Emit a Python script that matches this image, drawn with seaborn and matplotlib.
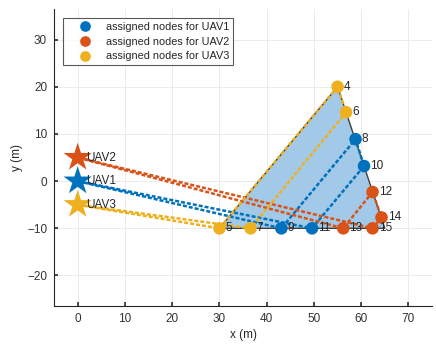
import matplotlib
matplotlib.use("Agg")
import matplotlib.pyplot as plt
import seaborn as sns
import pandas as pd

# ---- data ----
uav_names = ["UAV1", "UAV2", "UAV3"]
uav_x = [0, 0, 0]
uav_y = [0, 5, -5]

node_ids = [4, 5, 6, 7, 8, 9, 10, 11, 12, 13, 14, 15]
node_x = [55, 30, 56.8, 36.6, 58.8, 43.1, 60.6, 49.6, 62.4, 56.2, 64.3, 62.4]
node_y = [20, -10, 14.6, -10, 8.9, -10, 3.2, -10, -2.3, -10, -7.7, -10]
node_owner = ["UAV3", "UAV3", "UAV3", "UAV3", "UAV1", "UAV1", "UAV1", "UAV1",
              "UAV2", "UAV2", "UAV2", "UAV2"]

routes = {"UAV1": [9, 8, 10, 11], "UAV2": [13, 12, 14, 15], "UAV3": [5, 4, 6, 7]}

area_x = [30, 55, 65]
area_y = [-10, 20, -10]

legend_labels = ["assigned nodes for UAV1", "assigned nodes for UAV2", "assigned nodes for UAV3"]
x_ticks = [0, 10, 20, 30, 40, 50, 60, 70]
y_ticks = [-20, -10, 0, 10, 20, 30]

colors = {"UAV1": "#0072BD", "UAV2": "#D95319", "UAV3": "#EDB120"}

# ---- plotting ----
sns.set_theme(style="whitegrid")
plt.rcParams["font.family"] = ["Liberation Sans", "DejaVu Sans"]

fig = plt.figure(figsize=(4.36, 3.44), dpi=100)
ax = fig.add_axes([0.124, 0.110, 0.867, 0.864])

# area polygon
ax.fill(area_x, area_y, facecolor="#a3c9e8", edgecolor="#404040", linewidth=1.0, zorder=2)

nodes = pd.DataFrame({"id": node_ids, "x": node_x, "y": node_y, "owner": node_owner})
pos = {i: (x, y) for i, x, y in zip(node_ids, node_x, node_y)}

# route lines (UAV -> nodes -> back to UAV)
for name, ux, uy in zip(uav_names, uav_x, uav_y):
    seq = routes[name]
    xs = [ux] + [pos[i][0] for i in seq] + [ux]
    ys = [uy] + [pos[i][1] for i in seq] + [uy]
    df = pd.DataFrame({"x": xs, "y": ys})
    sns.lineplot(data=df, x="x", y="y", sort=False, estimator=None, ax=ax,
                 color=colors[name], linewidth=1.8, linestyle=(0, (1.6, 0.8)),
                 zorder=3)

# nodes
nodes["label"] = nodes["owner"].map(dict(zip(uav_names, legend_labels)))
sns.scatterplot(data=nodes, x="x", y="y", hue="label", hue_order=legend_labels,
                palette=[colors[n] for n in uav_names], s=82, edgecolor="none",
                ax=ax, zorder=4)

for i, x, y in zip(node_ids, node_x, node_y):
    ax.text(x + 1.3, y, str(i), fontsize=8.5, color="#262626", va="center", ha="left", zorder=5)

# UAV stars
uavs = pd.DataFrame({"x": uav_x, "y": uav_y, "name": uav_names})
sns.scatterplot(data=uavs, x="x", y="y", hue="name", hue_order=uav_names,
                palette=[colors[n] for n in uav_names], marker="*", s=460,
                edgecolor="none", ax=ax, legend=False, zorder=4)
for n, x, y in zip(uav_names, uav_x, uav_y):
    ax.text(x + 1.8, y, n, fontsize=8.5, color="#262626", va="center", ha="left", zorder=5)

ax.set_xlim(-5, 75)
ax.set_ylim(-26.5, 36.5)
ax.set_xticks(x_ticks)
ax.set_yticks(y_ticks)
ax.tick_params(direction="in", length=3, labelsize=8.5, colors="#333333",
               left=True, bottom=True, pad=5)
ax.grid(True, color="#ebebeb", linewidth=0.7)
ax.set_facecolor("white")
for s in ["top", "right"]:
    ax.spines[s].set_visible(False)
for s in ["left", "bottom"]:
    ax.spines[s].set_color("#262626")
    ax.spines[s].set_linewidth(0.8)
ax.set_xlabel("x (m)", fontsize=8.5, color="#262626", labelpad=3)
ax.set_ylabel("y (m)", fontsize=8.5, color="#262626", labelpad=3)

leg = ax.legend(loc="upper left", bbox_to_anchor=(0.024, 0.97), borderaxespad=0,
                fontsize=7.8, frameon=True, fancybox=False, edgecolor="#303030",
                borderpad=0.35, labelspacing=0.45, handlelength=3.3,
                handletextpad=0.3, markerscale=0.85)
leg.get_frame().set_linewidth(0.8)

fig.savefig("out.png", dpi=100)
